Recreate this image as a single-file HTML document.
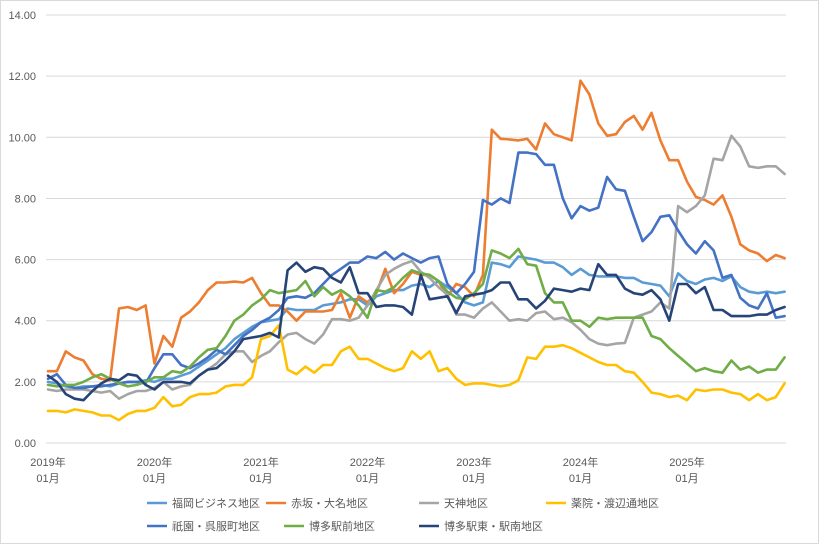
<!DOCTYPE html>
<html><head><meta charset="utf-8">
<style>
body{margin:0;background:#fff;}
#wrap{position:relative;width:819px;height:544px;overflow:hidden;font-family:"Liberation Sans","Noto Sans CJK JP",sans-serif;}
svg text{font-family:"Liberation Sans","Noto Sans CJK JP",sans-serif;font-size:11px;fill:#595959;}
</style></head>
<body>
<div id="wrap">
<svg id="chart" width="819" height="544">
<rect x="0.5" y="0.5" width="818" height="543" fill="#fff" stroke="#d9d9d9"/>
<g id="grid"></g><g id="ylab"></g><g id="xlab"></g><g id="lines"></g><g id="legend"></g>
</svg>
</div>
<script>
const months = 84;
const yTicks = [0,2,4,6,8,10,12,14];
const yTickLabels = ["0.00","2.00","4.00","6.00","8.00","10.00","12.00","14.00"];
const yearLabels = ["2019年","2020年","2021年","2022年","2023年","2024年","2025年"];
const seriesNames = ["福岡ビジネス地区","赤坂・大名地区","天神地区","薬院・渡辺通地区","祇園・呉服町地区","博多駅前地区","博多駅東・駅南地区"];
const seriesColors = ["#5B9BD5","#ED7D31","#A5A5A5","#FFC000","#4472C4","#70AD47","#264478"];
const fukuoka = [2.0,1.95,1.85,1.8,1.85,1.85,1.9,1.85,1.95,2.0,2.0,2.05,2.0,2.1,2.1,2.2,2.3,2.5,2.7,2.9,3.1,3.4,3.6,3.8,3.95,4.0,4.05,4.4,4.35,4.35,4.35,4.5,4.55,4.6,4.7,4.7,4.5,4.8,4.9,5.0,5.0,5.15,5.2,5.1,5.3,5.1,4.9,4.6,4.5,4.6,5.9,5.85,5.75,6.1,6.05,6.0,5.9,5.9,5.75,5.5,5.7,5.5,5.45,5.45,5.45,5.4,5.4,5.25,5.2,5.15,4.8,5.55,5.3,5.2,5.35,5.4,5.3,5.45,5.1,4.95,4.9,4.95,4.9,4.95];
const akasaka = [2.35,2.35,3.0,2.8,2.7,2.25,2.1,2.05,4.4,4.45,4.35,4.5,2.6,3.5,3.15,4.1,4.3,4.6,5.0,5.25,5.25,5.28,5.25,5.4,4.9,4.5,4.5,4.3,4.0,4.3,4.3,4.3,4.35,4.9,4.1,4.8,4.6,4.9,5.7,4.9,5.2,5.6,5.5,5.5,5.3,4.8,5.2,5.1,4.8,5.5,10.25,9.95,9.93,9.9,9.95,9.6,10.45,10.1,10.0,9.9,11.85,11.4,10.45,10.05,10.1,10.5,10.7,10.25,10.8,9.9,9.25,9.25,8.55,8.05,7.95,7.8,8.1,7.4,6.5,6.3,6.2,5.95,6.15,6.05];
const tenjin = [1.75,1.7,1.75,1.75,1.75,1.7,1.65,1.7,1.45,1.6,1.7,1.7,1.8,2.0,1.75,1.85,1.9,2.2,2.4,2.6,2.9,3.0,3.0,2.65,2.85,3.0,3.3,3.55,3.6,3.4,3.25,3.55,4.05,4.05,4.0,4.1,4.5,5.0,5.5,5.7,5.85,5.95,5.6,5.4,5.1,4.85,4.2,4.2,4.1,4.4,4.6,4.3,4.0,4.05,4.0,4.25,4.3,4.05,4.1,3.95,3.7,3.4,3.25,3.2,3.25,3.27,4.1,4.2,4.3,4.6,4.4,7.75,7.55,7.75,8.1,9.3,9.25,10.05,9.7,9.05,9.0,9.05,9.05,8.8];
const yakuin = [1.05,1.05,1.0,1.1,1.05,1.0,0.9,0.9,0.75,0.95,1.05,1.05,1.15,1.5,1.2,1.25,1.5,1.6,1.6,1.65,1.85,1.9,1.9,2.15,3.4,3.5,3.85,2.4,2.25,2.5,2.3,2.55,2.55,3.0,3.15,2.75,2.75,2.6,2.45,2.35,2.45,3.0,2.75,3.0,2.35,2.45,2.1,1.9,1.95,1.95,1.9,1.85,1.9,2.05,2.8,2.75,3.15,3.15,3.2,3.1,2.95,2.8,2.65,2.55,2.55,2.35,2.3,2.0,1.65,1.6,1.5,1.55,1.4,1.75,1.7,1.75,1.75,1.65,1.6,1.4,1.6,1.4,1.5,1.95];
const gion = [2.1,2.25,1.9,1.8,1.8,1.85,1.85,1.9,1.95,2.0,2.0,1.95,2.45,2.9,2.9,2.55,2.45,2.6,2.8,3.05,2.9,3.2,3.5,3.7,3.95,4.1,4.35,4.75,4.8,4.75,4.9,5.2,5.5,5.7,5.9,5.9,6.1,6.05,6.25,6.0,6.2,6.05,5.9,6.05,6.1,5.2,4.9,5.2,5.6,7.95,7.8,8.0,7.85,9.5,9.5,9.45,9.1,9.1,8.0,7.35,7.75,7.6,7.7,8.7,8.3,8.25,7.4,6.6,6.9,7.4,7.45,6.95,6.5,6.2,6.6,6.3,5.4,5.5,4.75,4.5,4.4,4.9,4.1,4.15];
const hakataEki = [1.9,1.85,1.9,1.9,2.0,2.15,2.25,2.1,1.95,1.85,1.9,2.0,2.15,2.15,2.35,2.3,2.5,2.8,3.05,3.1,3.5,4.0,4.2,4.5,4.7,5.0,4.9,4.95,5.0,5.3,4.8,5.1,4.85,5.0,4.8,4.5,4.1,5.0,4.95,5.1,5.4,5.65,5.55,5.5,5.3,4.95,4.75,4.7,4.9,5.2,6.3,6.2,6.05,6.35,5.85,5.8,4.9,4.6,4.6,4.0,4.0,3.8,4.1,4.05,4.1,4.1,4.1,4.1,3.5,3.4,3.1,2.85,2.6,2.35,2.45,2.35,2.3,2.7,2.4,2.5,2.3,2.4,2.4,2.8];
const hakataHigashi = [2.2,2.0,1.6,1.45,1.4,1.7,1.95,2.1,2.05,2.25,2.2,1.9,1.75,2.0,2.0,2.0,1.95,2.2,2.4,2.45,2.7,3.0,3.4,3.45,3.5,3.6,3.45,5.65,5.9,5.6,5.75,5.7,5.4,5.25,5.75,4.9,4.9,4.45,4.5,4.5,4.45,4.2,5.5,4.7,4.75,4.8,4.25,4.8,4.85,4.9,5.0,5.25,5.25,4.7,4.7,4.4,4.65,5.05,5.0,4.95,5.05,5.0,5.85,5.5,5.5,5.05,4.9,4.85,5.0,4.7,4.0,5.2,5.2,4.9,5.1,4.35,4.35,4.15,4.15,4.15,4.2,4.2,4.35,4.45];
const allSeries = [fukuoka,akasaka,tenjin,yakuin,gion,hakataEki,hakataHigashi];

const NS="http://www.w3.org/2000/svg";
const X0=48, XW=8.875, Y0=443, YS=30.57;
function xPos(i){return X0+i*XW;}
function yPos(v){return Y0-v*YS;}
function mk(tag,attrs,parent){const e=document.createElementNS(NS,tag);for(const k in attrs)e.setAttribute(k,attrs[k]);parent.appendChild(e);return e;}

const grid=document.getElementById('grid'), ylab=document.getElementById('ylab'), xlab=document.getElementById('xlab');
yTicks.forEach((t,k)=>{
  const l=mk('line',{x1:46,x2:786,y1:yPos(t),y2:yPos(t),stroke:'#d9d9d9','stroke-width':1},grid);
  
  
  const tx=mk('text',{x:36,y:yPos(t)+4,'text-anchor':'end'},ylab);
  tx.textContent=yTickLabels[k];
  
  
});
yearLabels.forEach((yl,k)=>{
  const x=xPos(k*12);
  const t1=mk('text',{x:x,y:466,'text-anchor':'middle'},xlab);
  t1.textContent=yl;
  
  
  const t2=mk('text',{x:x,y:482,'text-anchor':'middle'},xlab);
  t2.textContent='01月';
  
  
});
const lines=document.getElementById('lines');
allSeries.forEach((s,k)=>{
  const pts=s.map((v,i)=>xPos(i).toFixed(1)+','+yPos(v).toFixed(1)).join(' ');
  const p=mk('polyline',{points:pts,fill:'none',stroke:seriesColors[k],'stroke-width':2.6,'stroke-linejoin':'round','stroke-linecap':'round'},lines);
  
  
});
const legend=document.getElementById('legend');
const legPos=[[147,503],[266,503],[419,503],[546,503],[147,526],[284,526],[419,526]];
seriesNames.forEach((n,k)=>{
  const [x,y]=legPos[k];
  const l=mk('line',{x1:x,x2:x+20,y1:y,y2:y,stroke:seriesColors[k],'stroke-width':2.6},legend);
  
  
  const t=mk('text',{x:x+25,y:y+4},legend);
  t.textContent=n;
  
  
});
</script>
</body></html>
